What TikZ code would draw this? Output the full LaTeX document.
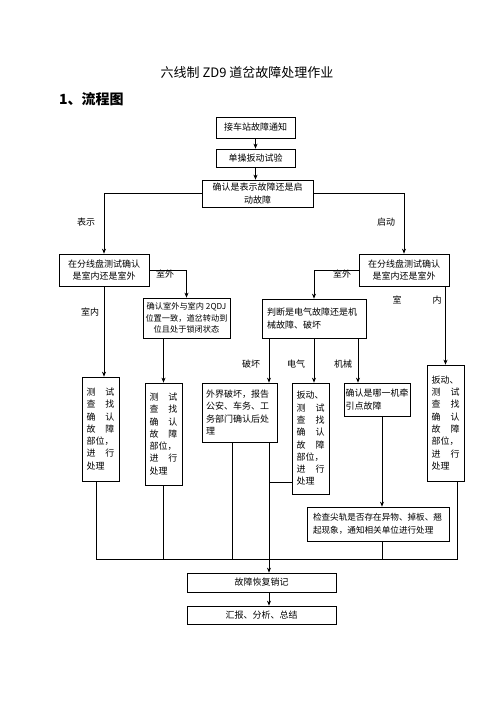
\documentclass[tikz,border=0pt]{standalone}
\usepackage{fontspec}
\setmainfont{Noto Sans CJK SC}
\usetikzlibrary{arrows.meta}
\newcommand{\twoch}[2]{\leavevmode\hbox to 28pt{#1\hfill#2}}
\begin{document}
\begin{tikzpicture}[x=1pt,y=-1pt,
  box/.style={draw,line width=0.7pt,inner sep=2pt,font=\fontsize{9}{12.3}\selectfont,align=center},
  lbox/.style={box,align=left},
  nbox/.style={box,align=left,text width=28pt,inner xsep=4.5pt},
  lab/.style={font=\fontsize{9}{11}\selectfont,inner sep=0pt},
  ln/.style={line width=0.7pt},
  arr/.style={ln,-{Stealth[length=5pt,width=4pt]}}]
\useasboundingbox (0,0) rectangle (496,702);
\node (title) at (247,73) {\fontsize{13}{15}\selectfont 六线制 ZD9 道岔故障处理作业};
\node[anchor=west,inner sep=0pt] (head) at (59,99) {\fontsize{14}{16}\selectfont\bfseries 1、流程图};

\node[box,minimum width=79pt,minimum height=21pt] (b1) at (255.5,127.5) {接车站故障通知};
\node[box,minimum width=79pt,minimum height=18pt] (b2) at (255.5,158) {单操扳动试验};
\node[box,minimum width=111pt,minimum height=27pt] (b3) at (257.5,193.5) {确认是表示故障还是启\\动故障};
\node[box,minimum width=90pt,minimum height=32pt] (b4) at (104,270) {在分线盘测试确认\\是室内还是室外};
\node[box,minimum width=90pt,minimum height=32pt] (b5) at (404,270) {在分线盘测试确认\\是室内还是室外};
\node[box,font=\fontsize{8.2}{11.5}\selectfont,inner sep=1pt,minimum width=87pt,minimum height=40pt] (b6) at (186.5,318) {确认室外与室内 2QDJ\\位置一致，道岔转动到\\位且处于锁闭状态};
\node[nbox,minimum width=37pt,minimum height=104pt] (b7) at (100.5,429) {\twoch{测}{试}\\\twoch{查}{找}\\\twoch{确}{认}\\\twoch{故}{障}\\部位，\\\twoch{进}{行}\\处理};
\node[nbox,minimum width=37pt,minimum height=102pt] (b8) at (163.5,434) {\twoch{测}{试}\\\twoch{查}{找}\\\twoch{确}{认}\\\twoch{故}{障}\\部位，\\\twoch{进}{行}\\处理};
\node[lbox,text width=94pt,inner xsep=5pt,minimum width=104pt,minimum height=39pt] (b9) at (314,318.5) {判断是电气故障还是机\\械故障、破坏};
\node[nbox,minimum width=37pt,minimum height=116pt] (b10) at (445.5,423) {扳动、\\\twoch{测}{试}\\\twoch{查}{找}\\\twoch{确}{认}\\\twoch{故}{障}\\部位，\\\twoch{进}{行}\\处理};
\node[lbox,text width=67pt,inner xsep=4pt,minimum width=75pt,minimum height=59pt] (b11) at (239.5,412.5) {外界破坏，报告\\公安、车务、工\\务部门确认后处\\理};
\node[nbox,minimum width=37pt,minimum height=111pt] (b12) at (310.5,438.5) {扳动、\\\twoch{测}{试}\\\twoch{查}{找}\\\twoch{确}{认}\\\twoch{故}{障}\\部位，\\\twoch{进}{行}\\处理};
\node[lbox,text width=63pt,inner xsep=1.5pt,minimum width=66pt,minimum height=33pt] (b13) at (377,399.5) {确认是哪一机牵\\引点故障};
\node[lbox,font=\fontsize{8.6}{12.5}\selectfont,text width=130pt,inner xsep=6pt,minimum width=142pt,minimum height=34pt] (b14) at (378,524) {检查尖轨是否存在异物、掉板、翘\\起现象，通知相关单位进行处理};
\node[box,minimum width=149pt,minimum height=19pt] (b15) at (261.5,582.5) {故障恢复销记};
\node[box,minimum width=149pt,minimum height=18pt] (b16) at (261.5,615) {汇报、分析、总结};

\node[lab] (l1) at (86,222) {表示};
\node[lab] (l2) at (386,222) {启动};
\node[lab] (l3) at (165,274) {室外};
\node[lab] (l4) at (342,274) {室外};
\node[lab] (l5) at (90,312) {室内};
\node[lab] (l6) at (397,300) {室};
\node[lab] (l7) at (437,300) {内};
\node[lab] (l8) at (251,364) {破坏};
\node[lab] (l9) at (296,364) {电气};
\node[lab] (l10) at (343,364) {机械};

\coordinate (xa) at (269,0);
\coordinate (xb) at (314,0);
\coordinate (xc) at (358,0);
\coordinate (xd) at (382,0);
\coordinate (xe) at (232,0);
\coordinate (x7) at (96,0);
\coordinate (x10) at (457,0);
\coordinate (bus) at (0,559);
\coordinate (h12) at (0,482);

\draw[arr] (b1) -- (b2);
\draw[arr] (b2.south) -- (b2.south |- b3.north);
\draw[arr] (b3.west) -| (b4.north);
\draw[arr] (b3.east) -| (b5.north);
\draw[arr] (b4.east) -| (b6.north);
\draw[arr] (b5.west) -| (b9.north);
\draw[arr] (b4.south) -- (b4.south |- b7.north);
\draw[arr] (b6.south -| b8.north) -- (b8.north);
\draw[arr] (b5.south -| b10.north) -- (b10.north);
\draw[arr] (b9.south -| xa) -- (b11.north -| xa);
\draw[arr] (b9.south -| xb) -- (b12.north -| xb);
\draw[arr] (b9.south -| xc) -- (b13.north -| xc);
\draw[arr] (b13.south -| xd) -- (b14.north -| xd);
\draw[arr] (b11.south -| xa) -- (b15.north -| xa);
\draw[ln] (b12.west |- h12) -- (xa |- h12);
\draw[ln] (b7.south -| x7) -- (x7 |- bus) -- (x10 |- bus) -- (b10.south -| x10);
\draw[ln] (b8.south) -- (b8.south |- bus);
\draw[ln] (b11.south -| xe) -- (xe |- bus);
\draw[ln] (b14.south -| xd) -- (xd |- bus);
\draw[arr] (b15.south -| xa) -- (b16.north -| xa);
\end{tikzpicture}
\end{document}
